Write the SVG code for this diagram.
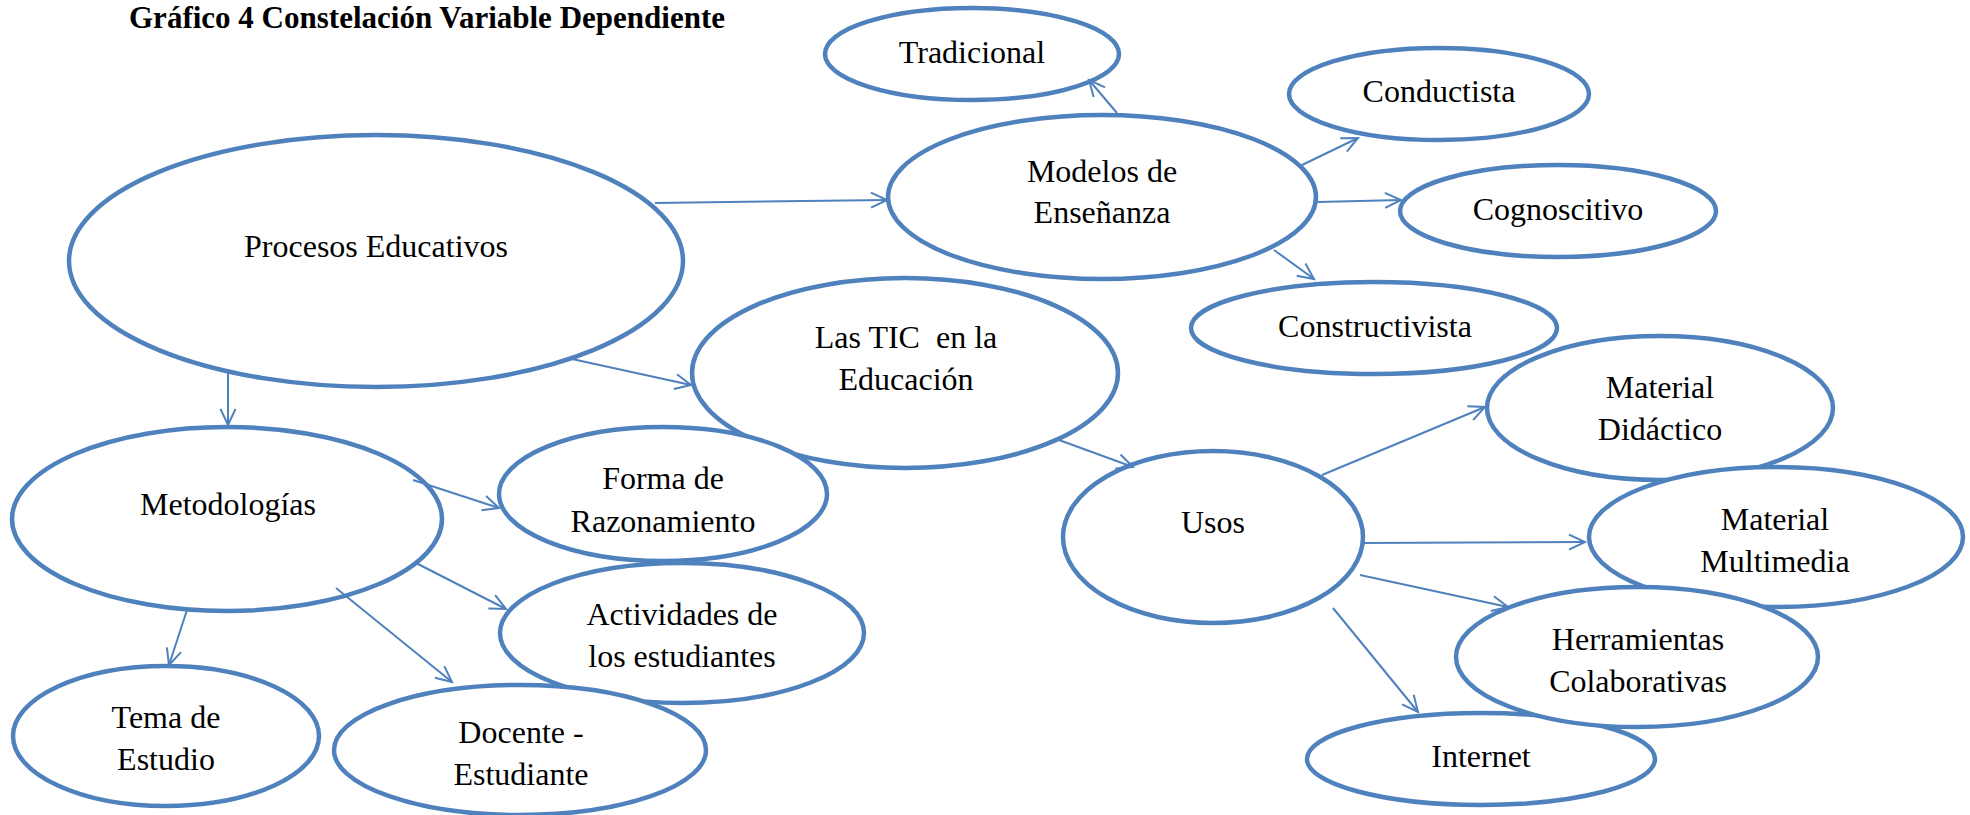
<svg xmlns="http://www.w3.org/2000/svg" width="1970" height="815" viewBox="0 0 1970 815">
<style>
.n ellipse{fill:#fff;stroke:#4F81BD;stroke-width:4.5}
.n text{font-family:"Liberation Serif","Times New Roman",serif;font-size:32px;fill:#000;text-anchor:middle}
.c line{stroke:#4F81BD;stroke-width:2;fill:none;marker-end:url(#arr)}
.title{font-family:"Liberation Serif","Times New Roman",serif;font-size:32px;font-weight:bold;fill:#000}
</style>
<defs>
<marker id="arr" markerUnits="userSpaceOnUse" viewBox="-18 -10 20 20" markerWidth="20" markerHeight="20" refX="0" refY="0" orient="auto" overflow="visible">
<path d="M-16,-7.5 L0,0 L-16,7.5" fill="none" stroke="#4F81BD" stroke-width="2"/>
</marker>
</defs>
<rect width="1970" height="815" fill="#fff"/>
<text class="title" x="129" y="28" textLength="596" lengthAdjust="spacingAndGlyphs">Gráfico 4 Constelación Variable Dependiente</text>
<g class="n" id="procesos"><ellipse cx="376" cy="261" rx="307" ry="126"/><text x="376" y="257">Procesos Educativos</text></g>
<g class="n" id="modelos"><ellipse cx="1102" cy="197" rx="214" ry="82"/><text x="1102" y="182">Modelos de</text><text x="1102" y="223">Enseñanza</text></g>
<g class="n" id="tradicional"><ellipse cx="972" cy="54" rx="147" ry="46"/><text x="972" y="63">Tradicional</text></g>
<g class="n" id="conductista"><ellipse cx="1439" cy="94" rx="150" ry="46"/><text x="1439" y="102">Conductista</text></g>
<g class="n" id="cognoscitivo"><ellipse cx="1558" cy="211" rx="158" ry="46"/><text x="1558" y="220">Cognoscitivo</text></g>
<g class="n" id="constructivista"><ellipse cx="1374" cy="328" rx="183" ry="46"/><text x="1375" y="337">Constructivista</text></g>
<g class="n" id="tic"><ellipse cx="905" cy="373" rx="213" ry="95"/><text x="906" y="348" xml:space="preserve">Las TIC  en la</text><text x="906" y="390">Educación</text></g>
<g class="n" id="forma"><ellipse cx="663" cy="494" rx="164" ry="67"/><text x="663" y="489">Forma de</text><text x="663" y="532">Razonamiento</text></g>
<g class="n" id="actividades"><ellipse cx="682" cy="633" rx="182" ry="70"/><text x="682" y="625">Actividades de</text><text x="682" y="667">los estudiantes</text></g>
<g class="n" id="docente"><ellipse cx="520" cy="750" rx="186" ry="65"/><text x="521" y="743">Docente -</text><text x="521" y="785">Estudiante</text></g>
<g class="n" id="metodologias"><ellipse cx="227" cy="519" rx="215" ry="92"/><text x="228" y="515">Metodologías</text></g>
<g class="n" id="tema"><ellipse cx="166" cy="736" rx="153" ry="70"/><text x="166" y="728">Tema de</text><text x="166" y="770">Estudio</text></g>
<g class="n" id="usos"><ellipse cx="1213" cy="537" rx="150" ry="86"/><text x="1213" y="533">Usos</text></g>
<g class="n" id="didactico"><ellipse cx="1660" cy="408" rx="173" ry="72"/><text x="1660" y="398">Material</text><text x="1660" y="440">Didáctico</text></g>
<g class="n" id="multimedia"><ellipse cx="1776" cy="537" rx="187" ry="70"/><text x="1775" y="530">Material</text><text x="1775" y="572">Multimedia</text></g>
<g class="n" id="internet"><ellipse cx="1481" cy="759" rx="174" ry="46"/><text x="1481" y="767">Internet</text></g>
<g class="n" id="herramientas"><ellipse cx="1637" cy="657" rx="181" ry="70"/><text x="1638" y="650">Herramientas</text><text x="1638" y="692">Colaborativas</text></g>
<g class="c" id="connectors">
<line x1="655" y1="203" x2="887" y2="200"/>
<line x1="572" y1="359" x2="691" y2="385"/>
<line x1="228" y1="373" x2="228" y2="425"/>
<line x1="1117" y1="113" x2="1089" y2="80"/>
<line x1="1302" y1="165" x2="1358" y2="138"/>
<line x1="1318" y1="202" x2="1401" y2="200"/>
<line x1="1274" y1="250" x2="1314" y2="279"/>
<line x1="1059" y1="440" x2="1133" y2="467"/>
<line x1="413" y1="480" x2="499" y2="508"/>
<line x1="416" y1="563" x2="506" y2="609"/>
<line x1="187" y1="610" x2="169" y2="665"/>
<line x1="336" y1="588" x2="452" y2="682"/>
<line x1="1322" y1="475" x2="1485" y2="407"/>
<line x1="1362" y1="543" x2="1585" y2="542"/>
<line x1="1360" y1="575" x2="1508" y2="607"/>
<line x1="1333" y1="608" x2="1418" y2="712"/>
</g>
</svg>
